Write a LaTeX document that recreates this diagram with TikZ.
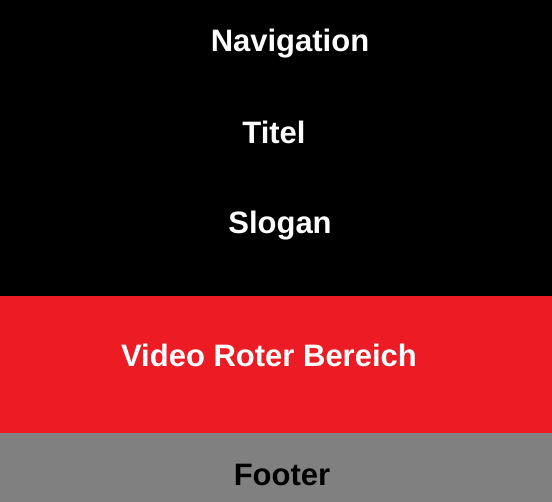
\documentclass[tikz,border=0pt]{standalone}
\usepackage{fontspec}
\setmainfont{Liberation Sans}
\usepackage{tikz}
\usetikzlibrary{positioning}
\definecolor{paintred}{HTML}{ED1C24}
\definecolor{paintgray}{HTML}{808080}

\begin{document}
\begin{tikzpicture}[x=1pt,y=-1pt,
                    label/.style={anchor=base, font=\fontsize{31}{36}\selectfont\bfseries},
                    lightlabel/.style={label, text=white}]

  \useasboundingbox (0,0) rectangle (552,502);
  \fill[black]     (0,0)   rectangle (552,296);
  \fill[paintred]  (0,296) rectangle (552,433);
  \fill[paintgray] (0,433) rectangle (552,502);

  \node[lightlabel] at (290,52)  (nav)    {Navigation};
  \node[lightlabel] at (274,144) (titel)  {Titel};
  \node[lightlabel] at (280,234) (slogan) {Slogan};
  \node[lightlabel] at (269,367) (video)  {Video Roter Bereich};
  \node[label]      at (282,486) (footer) {Footer};

\end{tikzpicture}
\end{document}
